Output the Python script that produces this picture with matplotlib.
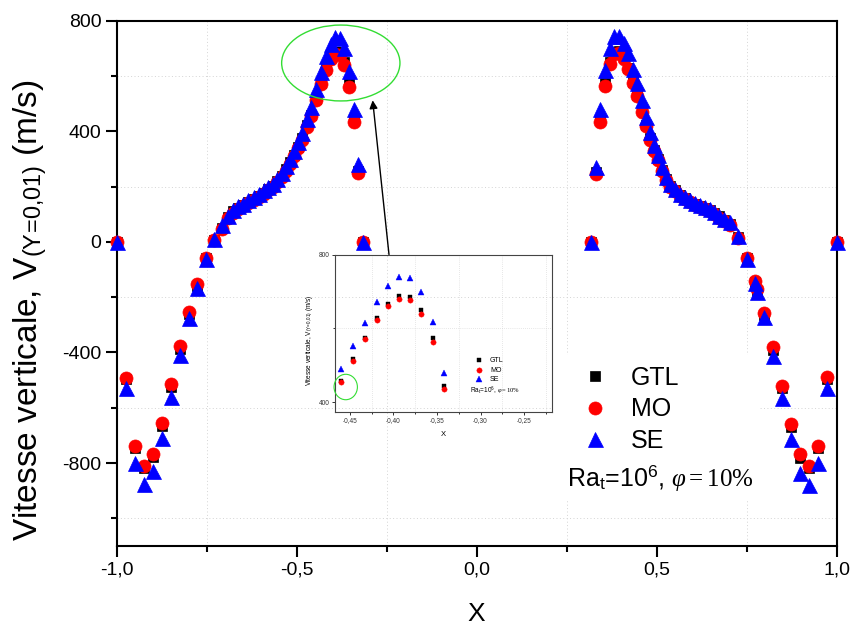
import matplotlib
matplotlib.use('Agg')
import matplotlib.pyplot as plt
from matplotlib.ticker import MultipleLocator, FuncFormatter
from matplotlib.patches import Ellipse, Rectangle

# ---------------- data ----------------
x_left = [-1.000, -0.974, -0.949, -0.924, -0.898, -0.873, -0.848, -0.824, -0.800, -0.777,
          -0.753, -0.730, -0.707, -0.690, -0.676, -0.662, -0.648, -0.634, -0.620, -0.606,
          -0.592, -0.579, -0.566, -0.554, -0.542, -0.530, -0.518, -0.507, -0.496, -0.484,
          -0.472, -0.4605, -0.446, -0.433, -0.419, -0.406, -0.394, -0.381, -0.368, -0.355,
          -0.342, -0.329, -0.316]
gtl_left = [0, -497, -745, -818, -778, -666, -525, -388, -262, -158,
            -60, 8, 52, 89, 110, 122, 132, 143, 155, 166,
            178, 190, 202, 219, 238, 262, 288, 314, 344, 375,
            423, 458, 516, 573, 627, 667, 688, 685, 650, 573,
            445, 258, 0]
mo_left = [0, -491, -739, -811, -769, -654, -515, -378, -253, -152,
           -58, 7, 48, 85, 106, 119, 129, 140, 152, 163,
           174, 186, 198, 215, 234, 257, 283, 309, 338, 369,
           416, 455, 512, 570, 622, 661, 680, 676, 640, 562,
           435, 250, 0]
se_left = [0, -529, -799, -877, -829, -711, -561, -409, -276, -167,
           -62, 11, 60, 95, 116, 128, 138, 150, 162, 174,
           186, 198, 210, 228, 249, 273, 301, 329, 361, 394,
           446, 489, 552, 615, 672, 716, 740, 737, 700, 618,
           480, 282, 0]

x_right = [0.317, 0.330, 0.343, 0.356, 0.369, 0.382, 0.395, 0.408, 0.421, 0.434,
           0.446, 0.458, 0.470, 0.482, 0.493, 0.504, 0.515, 0.526, 0.538, 0.551,
           0.565, 0.579, 0.592, 0.606, 0.620, 0.634, 0.647, 0.660, 0.673, 0.686,
           0.704, 0.727, 0.752, 0.773, 0.778, 0.798, 0.822, 0.847, 0.872, 0.897,
           0.922, 0.947, 0.973, 1.000]
gtl_right = [0, 252, 442, 575, 652, 686, 690, 668, 630, 580,
             532, 476, 424, 375, 332, 300, 260, 227, 203, 186,
             169, 157, 146, 136, 128, 121, 116, 104, 92, 80,
             66, 17, -60, -146, -177, -263, -390, -530, -668, -780,
             -818, -745, -495, 0]
mo_right = [0, 245, 432, 565, 642, 678, 682, 662, 625, 575,
            528, 470, 418, 370, 328, 296, 256, 223, 200, 183,
            166, 154, 143, 133, 125, 118, 112, 100, 88, 77,
            62, 14, -58, -142, -172, -258, -382, -521, -658, -769,
            -811, -739, -488, 0]
se_right = [0, 270, 479, 621, 700, 745, 745, 718, 682, 627,
            573, 512, 452, 397, 349, 313, 270, 234, 210, 192,
            174, 162, 150, 140, 132, 125, 120, 107, 95, 83,
            71, 20, -62, -150, -183, -270, -412, -563, -714, -835,
            -880, -799, -529, 0]

x_all = x_left + x_right
series = [
    ('GTL', gtl_left + gtl_right, 's', 'black'),
    ('MO', mo_left + mo_right, 'o', 'red'),
    ('SE', se_left + se_right, '^', 'blue'),
]

# ---------------- style ----------------
plt.rcParams['font.family'] = ['Liberation Sans', 'DejaVu Sans']
plt.rcParams['axes.unicode_minus'] = False
plt.rcParams['mathtext.fontset'] = 'custom'
plt.rcParams['mathtext.rm'] = 'Liberation Serif'
plt.rcParams['mathtext.it'] = 'Liberation Serif:italic'

W, H = 855, 629
fig = plt.figure(figsize=(W / 100, H / 100), dpi=100)

def px(x0, y0, x1, y1):
    return [x0 / W, 1 - y1 / H, (x1 - x0) / W, (y1 - y0) / H]

ax = fig.add_axes(px(116.7, 20.7, 836.7, 546))
ax.set_axisbelow(True)

msizes = {'s': 7.4, 'o': 9.4, '^': 10.8}
handles = []
for i, (lab, vals, mk, col) in enumerate(series):
    h, = ax.plot(x_all, vals, linestyle='none', marker=mk, color=col,
                 markersize=msizes[mk], markeredgecolor=col, markeredgewidth=0.5,
                 label=lab, zorder=3 + i, clip_on=False)
    handles.append(h)

ax.set_xlim(-1.0, 1.0)
ax.set_ylim(-1100, 800)
ax.xaxis.set_major_locator(MultipleLocator(0.5))
ax.xaxis.set_minor_locator(MultipleLocator(0.25))
ax.yaxis.set_major_locator(MultipleLocator(400))
ax.yaxis.set_minor_locator(MultipleLocator(200))
ax.xaxis.set_major_formatter(FuncFormatter(lambda v, p: f'{v:.1f}'.replace('.', ',')))
ax.yaxis.set_major_formatter(FuncFormatter(lambda v, p: f'{v:.0f}'))
ax.tick_params(which='major', direction='out', length=8, width=1.5, labelsize=14,
               top=False, right=False, pad=3)
ax.tick_params(which='minor', direction='out', length=4.5, width=1.5,
               top=False, right=False)
ax.grid(which='minor', linestyle=(0, (1, 2.5)), color='#d4d4d4', linewidth=0.7)
for s in ax.spines.values():
    s.set_linewidth(1.5)

ylab = r'Vitesse verticale, V$_\mathregular{(Y\!=\!0{,}01)}$ (m/s)'
ax.set_xlabel('X', fontsize=19)
ax.xaxis.label.set_va('center')
ax.xaxis.set_label_coords(0.5, -0.129)
ax.set_ylabel(ylab, fontsize=24)
ax.yaxis.label.set_va('center')
ax.yaxis.set_label_coords(-0.121, 0.449)

# white box behind legend (hides grid)
ax.add_patch(Rectangle(((553 - 116.7) / 720, (546 - 500) / 525.3),
                       (760 - 553) / 720, (500 - 355) / 525.3,
                       transform=ax.transAxes, facecolor='white', edgecolor='none',
                       zorder=1))

leg = ax.legend(handles=handles, loc='upper left',
                bbox_to_anchor=(582 / W, 1 - 366 / H), bbox_transform=fig.transFigure,
                frameon=False, fontsize=18, handlelength=1.0, handletextpad=0.95,
                labelspacing=0.30, borderpad=0, borderaxespad=0)

fig.text(566.7 / W, 1 - 486 / H,
         r'Ra$_\mathregular{t}$=10$^\mathregular{6}$, $\varphi\mathrm{=10\%}$',
         fontsize=18, ha='left', va='baseline')

# green ellipse around the peak
ax.add_patch(Ellipse((-0.3775, 647), 0.3286, 274.5, fill=False, edgecolor='#33dd33',
                     linewidth=1.0, zorder=7, clip_on=False))
# arrow from inset to ellipse
ax.annotate('', xy=(-0.289, 512), xytext=(-0.2436, -46),
            arrowprops=dict(arrowstyle='-|>', color='black', lw=1.0,
                            mutation_scale=12, shrinkA=0, shrinkB=0), zorder=8)

# ---------------- inset ----------------
axi = fig.add_axes(px(335, 254.7, 552, 411.7))
axi.patch.set_alpha(0)
isizes = {'s': 3.3, 'o': 3.8, '^': 4.3}
ih = []
for i, (lab, vals, mk, col) in enumerate(series):
    h, = axi.plot(x_all, vals, linestyle='none', marker=mk, color=col,
                  markersize=isizes[mk], markeredgecolor=col, markeredgewidth=0.3,
                  label=lab, zorder=3 + i)
    ih.append(h)
axi.set_xlim(-0.467, -0.218)
axi.set_ylim(374, 800)
axi.xaxis.set_major_locator(MultipleLocator(0.05))
axi.xaxis.set_minor_locator(MultipleLocator(0.025))
axi.yaxis.set_major_locator(MultipleLocator(400))
axi.yaxis.set_minor_locator(MultipleLocator(200))
axi.xaxis.set_major_formatter(FuncFormatter(lambda v, p: f'{v:.2f}'.replace('.', ',')))
axi.yaxis.set_major_formatter(FuncFormatter(lambda v, p: f'{v:.0f}'))
axi.tick_params(which='major', direction='out', length=2.2, width=0.7, labelsize=4.7,
                pad=1.5, colors='#333333')
axi.tick_params(which='minor', direction='out', length=1.3, width=0.7, colors='#333333')
axi.grid(which='minor', linestyle=(0, (1, 2)), color='#d0d0d0', linewidth=0.5)
for s in axi.spines.values():
    s.set_linewidth(0.8)
    s.set_color('#444444')
axi.set_xlabel('X', fontsize=5.5)
axi.xaxis.label.set_va('center')
axi.xaxis.set_label_coords(0.499, -0.148)
axi.set_ylabel(ylab, fontsize=4.7)
axi.yaxis.label.set_va('center')
axi.yaxis.set_label_coords(-0.115, 0.457)

axi.legend(handles=ih, loc='upper left',
           bbox_to_anchor=(476 / W, 1 - 357.5 / H), bbox_transform=fig.transFigure,
           frameon=False, fontsize=5, handlelength=1.0, handletextpad=1.0,
           labelspacing=0.35, borderpad=0, borderaxespad=0)
fig.text(470 / W, 1 - 393 / H,
         r'Ra$_\mathregular{t}$=10$^\mathregular{6}$, $\varphi\mathrm{=10\%}$',
         fontsize=4.7, ha='left', va='baseline')
axi.add_patch(Ellipse((-0.4547, 441), 0.0268, 69, fill=False, edgecolor='#33dd33',
                      linewidth=0.8, zorder=7, clip_on=False))

fig.savefig('out.png', dpi=100)
